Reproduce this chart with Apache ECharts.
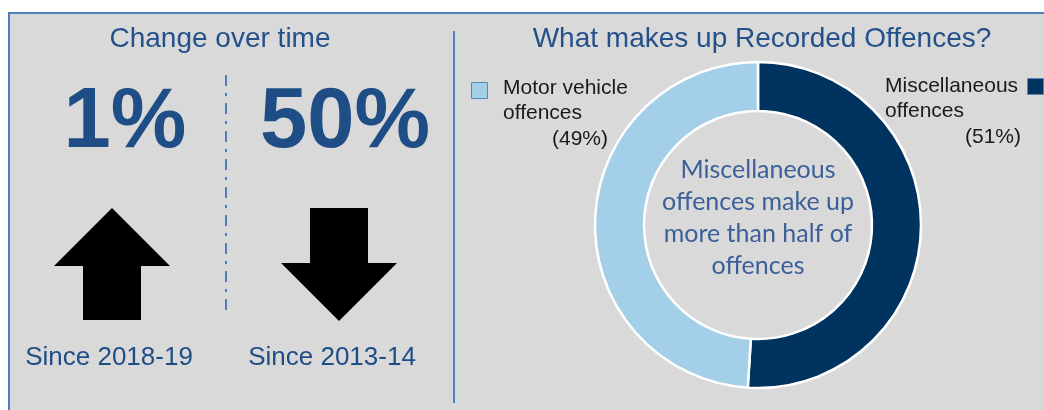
<!DOCTYPE html>
<html>
<head>
<meta charset="utf-8">
<script src="https://cdn.jsdelivr.net/npm/echarts@6/dist/echarts.min.js"></script>
<style>
  html, body { margin: 0; padding: 0; background: #ffffff; }
  #chart { width: 1044px; height: 410px; }
</style>
</head>
<body>
<div id="chart"></div>
<script>
// Offence composition (share of recorded offences, %)
const categories = ['Miscellaneous offences', 'Motor vehicle offences'];
const shares = [51, 49];
const sliceColors = ['#00335f', '#a3d0e8'];

// Change-over-time headline figures
const changeValues = ['1%', '50%'];
const changeDirections = ['up', 'down'];
const changePeriods = ['Since 2018-19', 'Since 2013-14'];

const leftTitle = 'Change over time';
const rightTitle = 'What makes up Recorded Offences?';
const centreNote = 'Miscellaneous\noffences make up\nmore than half of\noffences';

const BLUE_TEXT = '#1f4e87';
const TITLE_TEXT = '#24518a';
const FRAME = '#4f81bd';
const ARIAL = '"Liberation Sans", Arial, sans-serif';

const chart = echarts.init(document.getElementById('chart'), null, { renderer: 'canvas' });

function txt(text, x, y, size, color, opts) {
  opts = opts || {};
  return {
    type: 'text',
    z: 10,
    style: {
      text: text, x: x, y: y,
      fill: color,
      fontSize: size,
      fontFamily: opts.family || ARIAL,
      fontWeight: opts.weight || 'normal',
      lineHeight: opts.lineHeight,
      align: opts.align || 'center',
      verticalAlign: 'middle',
      textAlign: opts.align || 'center',
      textVerticalAlign: 'middle'
    }
  };
}

// Block arrows for the change panels
function arrowPoints(dir, cx) {
  const top = 208, bottom = 321, headHalf = 58, stemHalf = 29;
  if (dir === 'up') {
    const base = 266;
    return [[cx, top], [cx + headHalf, base], [cx + stemHalf, base], [cx + stemHalf, bottom - 1],
            [cx - stemHalf, bottom - 1], [cx - stemHalf, base], [cx - headHalf, base]];
  }
  const base = 263;
  return [[cx - stemHalf, top], [cx + stemHalf, top], [cx + stemHalf, base], [cx + headHalf, base],
          [cx, bottom], [cx - headHalf, base], [cx - stemHalf, base]];
}

const panelCentres = [112, 339];
const numberCentres = [125, 345];
const periodCentres = [109, 332];

const graphics = [
  // panel background and frame
  { type: 'rect', z: 0, shape: { x: 9, y: 12, width: 1040, height: 400 }, style: { fill: '#d9d9d9' } },
  { type: 'line', z: 1, shape: { x1: 8, y1: 13, x2: 1044, y2: 13 }, style: { stroke: FRAME, lineWidth: 2 } },
  { type: 'line', z: 1, shape: { x1: 9, y1: 12, x2: 9, y2: 410 }, style: { stroke: FRAME, lineWidth: 2 } },
  // divider between the two panels
  { type: 'line', z: 1, shape: { x1: 454, y1: 31, x2: 454, y2: 403 }, style: { stroke: FRAME, lineWidth: 2 } },
  // dash-dot separator inside the change panel
  { type: 'line', z: 1, shape: { x1: 226, y1: 75, x2: 226, y2: 312 },
    style: { stroke: '#4a7ebb', lineWidth: 2, lineDash: [11, 7, 3, 7] } },
  txt(leftTitle, 220, 39, 28, TITLE_TEXT),
  txt(rightTitle, 762, 39, 28, TITLE_TEXT)
];

changeValues.forEach(function (v, i) {
  graphics.push(txt(v, numberCentres[i], 124, 85, BLUE_TEXT, { weight: 'bold' }));
  graphics.push({
    type: 'polygon', z: 5,
    shape: { points: arrowPoints(changeDirections[i], panelCentres[i]) },
    style: { fill: '#000000' }
  });
  graphics.push(txt(changePeriods[i], periodCentres[i], 358, 26, BLUE_TEXT));
});

// Data labels with legend keys for the doughnut
function splitName(name) {
  const k = name.lastIndexOf(' ');
  return [name.slice(0, k), name.slice(k + 1)];
}
const labelSpots = [
  { x: 885, y: 86, pctX: 993, key: { x: 1027, y: 78 } },
  { x: 503, y: 88, pctX: 580, key: { x: 471, y: 82 } }
];
categories.forEach(function (name, i) {
  const parts = splitName(name);
  const s = labelSpots[i];
  graphics.push(txt(parts[0], s.x, s.y, 21, '#1a1a1a', { align: 'left' }));
  graphics.push(txt(parts[1], s.x, s.y + 25, 21, '#1a1a1a', { align: 'left' }));
  graphics.push(txt('(' + shares[i] + '%)', s.pctX, s.y + 51, 21, '#1a1a1a'));
  graphics.push({
    type: 'rect', z: 6,
    shape: { x: s.key.x + 0.5, y: s.key.y + 0.5, width: 16, height: 16 },
    style: { fill: sliceColors[i], stroke: '#5b86b6', lineWidth: 1 }
  });
});

graphics.push(txt(centreNote, 758, 218, 25, '#3b5f98', { family: 'Lato, "Noto Sans", sans-serif', lineHeight: 32 }));

chart.setOption({
  animation: false,
  backgroundColor: '#ffffff',
  graphic: { elements: graphics },
  series: [{
    type: 'pie',
    z: 3,
    center: [758, 225],
    radius: [114, 163],
    startAngle: 90,
    clockwise: true,
    silent: true,
    label: { show: false },
    labelLine: { show: false },
    itemStyle: { borderColor: '#ffffff', borderWidth: 2.5 },
    data: categories.map(function (c, i) {
      return { name: c, value: shares[i], itemStyle: { color: sliceColors[i] } };
    })
  }]
});
</script>
</body>
</html>
